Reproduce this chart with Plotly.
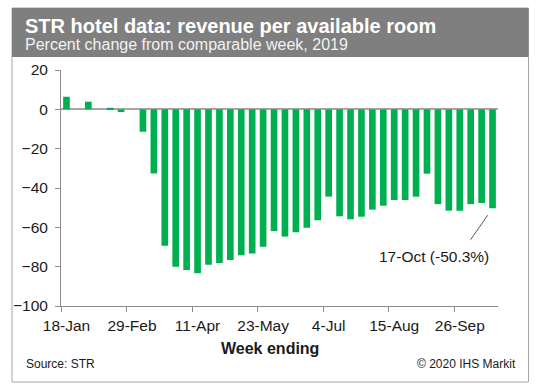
import plotly.graph_objects as go

weeks = ["18-Jan", "25-Jan", "1-Feb", "8-Feb", "15-Feb", "22-Feb", "29-Feb", "7-Mar",
         "14-Mar", "21-Mar", "28-Mar", "4-Apr", "11-Apr", "18-Apr", "25-Apr", "2-May",
         "9-May", "16-May", "23-May", "30-May", "6-Jun", "13-Jun", "20-Jun", "27-Jun",
         "4-Jul", "11-Jul", "18-Jul", "25-Jul", "1-Aug", "8-Aug", "15-Aug", "22-Aug",
         "29-Aug", "5-Sep", "12-Sep", "19-Sep", "26-Sep", "3-Oct", "10-Oct", "17-Oct"]

revpar_change = [6.4, None, 3.9, None, 0.8, -1.4, None, -11.4,
                 -32.6, -69.4, -80.1, -81.7, -83.4, -79.0, -78.1, -76.6,
                 -74.2, -73.3, -69.9, -61.9, -64.7, -62.5, -60.2, -56.4,
                 -44.4, -54.4, -55.9, -54.6, -51.0, -49.0, -46.1, -46.1,
                 -44.4, -32.7, -48.2, -51.5, -51.6, -48.2, -47.6, -50.3]

title = "STR hotel data: revenue per available room"
subtitle = "Percent change from comparable week, 2019"
x_title = "Week ending"
source = "Source: STR"
copyright_txt = "© 2020 IHS Markit"
last_label = f"{weeks[-1]} ({revpar_change[-1]:.1f}%)"

FONT = "Arial, Liberation Sans, sans-serif"
W, H = 538, 391
ML, MR, MT, MB = 61, 40, 70, 85
PW, PH = W - ML - MR, H - MT - MB


def px(x):
    return (x - ML) / PW


def py(y):
    return (H - MB - y) / PH


fig = go.Figure()
fig.add_trace(go.Bar(x=weeks, y=revpar_change, marker=dict(color="#00B050", line=dict(width=0)),
                     hoverinfo="x+y"))

fig.update_layout(
    template="none",
    width=W, height=H,
    margin=dict(l=ML, r=MR, t=MT, b=MB, pad=0),
    paper_bgcolor="white", plot_bgcolor="white",
    showlegend=False, bargap=0.39,
    font=dict(family=FONT, size=15.5, color="#1a1a1a"),
    xaxis=dict(type="category", tickmode="linear", tick0=0, dtick=6, tickson="boundaries",
               ticks="outside", ticklen=5, tickcolor="#8c8c8c", showline=True,
               linecolor="#8c8c8c", linewidth=1, showgrid=False, zeroline=False, tickangle=0,
               automargin=False, ticklabelstandoff=5,
               tickfont=dict(size=15.5, color="#1a1a1a")),
    yaxis=dict(range=[-100, 20], dtick=20, ticks="outside", ticklen=5, tickcolor="#8c8c8c",
               showline=True, linecolor="#8c8c8c", linewidth=1, showgrid=False,
               zeroline=True, zerolinecolor="#a6a6a6", zerolinewidth=1.5,
               automargin=False, ticklabelstandoff=4,
               tickfont=dict(size=15.5, color="#1a1a1a")),
)

shapes = [
    dict(type="rect", xref="paper", yref="paper", x0=px(12), x1=px(528.5), y0=py(382), y1=py(8),
         line=dict(color="#a6a6a6", width=1), fillcolor="rgba(0,0,0,0)", layer="below"),
    dict(type="rect", xref="paper", yref="paper", x0=px(12), x1=px(528.5), y0=py(57), y1=py(8),
         line=dict(width=0), fillcolor="#7f7f7f", layer="below"),
]
fig.update_layout(shapes=shapes)

ann = [
    dict(text=f"<b>{title}</b>", xref="paper", yref="paper", x=px(23), y=py(26),
         xanchor="left", yanchor="middle", showarrow=False,
         font=dict(size=20, color="white", family=FONT)),
    dict(text=subtitle, xref="paper", yref="paper", x=px(23), y=py(44),
         xanchor="left", yanchor="middle", showarrow=False,
         font=dict(size=16, color="#f2f2f2", family=FONT)),
    dict(text=f"<b>{x_title}</b>", xref="paper", yref="paper", x=px(270), y=py(348),
         xanchor="center", yanchor="middle", showarrow=False,
         font=dict(size=16, color="#1a1a1a", family=FONT)),
    dict(text=source, xref="paper", yref="paper", x=px(24), y=py(363.5),
         xanchor="left", yanchor="middle", showarrow=False,
         font=dict(size=12, color="#1a1a1a", family=FONT)),
    dict(text=copyright_txt, xref="paper", yref="paper", x=px(518), y=py(363.5),
         xanchor="right", yanchor="middle", showarrow=False,
         font=dict(size=12, color="#1a1a1a", family=FONT)),
    dict(text="", x=weeks[-1], y=revpar_change[-1], xref="x", yref="y",
         showarrow=True, arrowhead=0, arrowwidth=1, arrowcolor="#595959",
         ax=-23, ay=33, standoff=8.5),
    dict(text=last_label, x=weeks[-1], y=revpar_change[-1], xref="x", yref="y",
         xshift=-59, yshift=-48.5, showarrow=False, xanchor="center", yanchor="middle",
         font=dict(size=15.5, color="#1a1a1a", family=FONT)),
]
fig.update_layout(annotations=ann)

fig.write_html("out.html", config={"displayModeBar": False},
               post_script="document.body.style.margin='0';document.body.style.padding='0';")
